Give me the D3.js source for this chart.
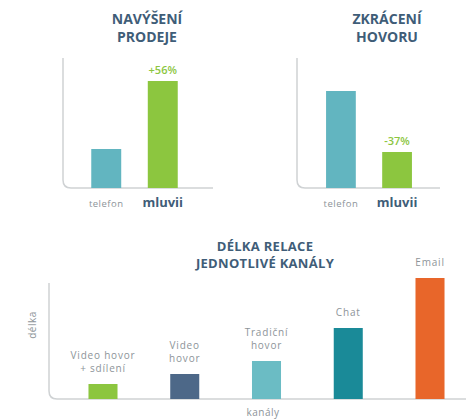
<!DOCTYPE html>
<html>
<head>
<meta charset="utf-8">
<script src="https://d3js.org/d3.v7.min.js"></script>
<style>
  body { margin: 0; background: #fff; }
  text { font-family: "Open Sans", "DejaVu Sans", sans-serif; }
</style>
</head>
<body>
<script>
// Data
const topCats = ["telefon", "mluvii"];
const prodejeValues = [39, 107];
const prodejeNotes = ["", "+56%"];
const hovoruValues = [97, 36];
const hovoruNotes = ["", "-37%"];
const topColors = ["#62b5c0", "#8cc63f"];

const kanaly = ["Video hovor|+ sdílení", "Video|hovor", "Tradiční|hovor", "Chat", "Email"];
const delkaValues = [15, 25, 38, 71, 121];
const kanalyColors = ["#8cc63f", "#4d6888", "#6bbcc4", "#1a8a98", "#e8662a"];

const W = 466, H = 420;
const titleColor = "#3f5d78";
const greyText = "#8d9499";
const axisColor = "#cfd2d4";

const svg = d3.select("body").append("svg")
  .attr("width", W).attr("height", H);

// rounded L-shaped axis
function drawAxis(x0, top, base, xEnd) {
  const r = 8;
  svg.append("path")
    .attr("d", `M${x0},${top} V${base - r} Q${x0},${base} ${x0 + r},${base} H${xEnd}`)
    .attr("fill", "none")
    .attr("stroke", axisColor)
    .attr("stroke-width", 1.5);
}

function title(lines, cx, y0, size, lead, spacing) {
  lines.forEach((t, i) => {
    svg.append("text")
      .attr("x", cx).attr("y", y0 + i * lead)
      .attr("text-anchor", "middle")
      .attr("font-size", size).attr("font-weight", 700)
      .attr("letter-spacing", spacing)
      .attr("fill", titleColor)
      .text(t);
  });
}

function smallChart(values, notes, range, axisX, axisEnd, titleLines, titleX) {
  const base = 188;
  const x = d3.scaleBand().domain(topCats).range(range)
    .paddingInner(0.47).paddingOuter(0.5);
  const y = d3.scaleLinear().domain([0, 130]).range([base, base - 130]);

  title(titleLines, titleX, 24, 14, 18, 0);
  drawAxis(axisX, 58, base, axisEnd);

  svg.append("g").selectAll("rect")
    .data(values).join("rect")
    .attr("x", (d, i) => x(topCats[i]))
    .attr("y", d => y(d))
    .attr("width", x.bandwidth())
    .attr("height", d => y(0) - y(d))
    .attr("fill", (d, i) => topColors[i]);

  svg.append("g").selectAll("text")
    .data(notes).join("text")
    .attr("x", (d, i) => x(topCats[i]) + x.bandwidth() / 2)
    .attr("y", (d, i) => y(values[i]) - 7)
    .attr("text-anchor", "middle")
    .attr("font-size", 11).attr("font-weight", 600)
    .attr("fill", "#8cc63f")
    .text(d => d);

  // category labels
  svg.append("text")
    .attr("x", x("telefon") + x.bandwidth() / 2).attr("y", 207)
    .attr("text-anchor", "middle")
    .attr("font-size", 9.5).attr("letter-spacing", 0.5)
    .attr("fill", greyText)
    .text("telefon");
  svg.append("text")
    .attr("x", x("mluvii") + x.bandwidth() / 2).attr("y", 207)
    .attr("text-anchor", "middle")
    .attr("font-size", 13).attr("font-weight", 700)
    .attr("fill", titleColor)
    .text("mluvii");
}

smallChart(prodejeValues, prodejeNotes, [63, 206], 63, 213, ["NAVÝŠENÍ", "PRODEJE"], 147);
smallChart(hovoruValues, hovoruNotes, [298, 440], 297, 440, ["ZKRÁCENÍ", "HOVORU"], 387);

// bottom chart
const base3 = 399;
const x3 = d3.scaleBand().domain(kanaly).range([49, 484])
  .paddingInner(0.645).paddingOuter(0.483);
const y3 = d3.scaleLinear().domain([0, 130]).range([base3, base3 - 130]);

title(["DÉLKA RELACE", "JEDNOTLIVÉ KANÁLY"], 265, 250.5, 13, 17.5, 0.3);
drawAxis(49, 283, base3, 466);

svg.append("g").selectAll("rect")
  .data(delkaValues).join("rect")
  .attr("x", (d, i) => x3(kanaly[i]))
  .attr("y", d => y3(d))
  .attr("width", x3.bandwidth())
  .attr("height", d => y3(0) - y3(d))
  .attr("fill", (d, i) => kanalyColors[i]);

kanaly.forEach((k, i) => {
  const lines = k.split("|");
  const cx = x3(k) + x3.bandwidth() / 2;
  const last = y3(delkaValues[i]) - 12;
  lines.forEach((t, j) => {
    svg.append("text")
      .attr("x", cx)
      .attr("y", last - (lines.length - 1 - j) * 13)
      .attr("text-anchor", "middle")
      .attr("font-size", 10).attr("letter-spacing", 0.8)
      .attr("fill", greyText)
      .text(t);
  });
});

svg.append("text")
  .attr("x", 263).attr("y", 416)
  .attr("text-anchor", "middle")
  .attr("font-size", 10).attr("letter-spacing", 0.5)
  .attr("fill", greyText)
  .text("kanály");

svg.append("text")
  .attr("transform", "translate(36,325) rotate(-90)")
  .attr("text-anchor", "middle")
  .attr("font-size", 10).attr("letter-spacing", 0.5)
  .attr("fill", greyText)
  .text("délka");
</script>
</body>
</html>
